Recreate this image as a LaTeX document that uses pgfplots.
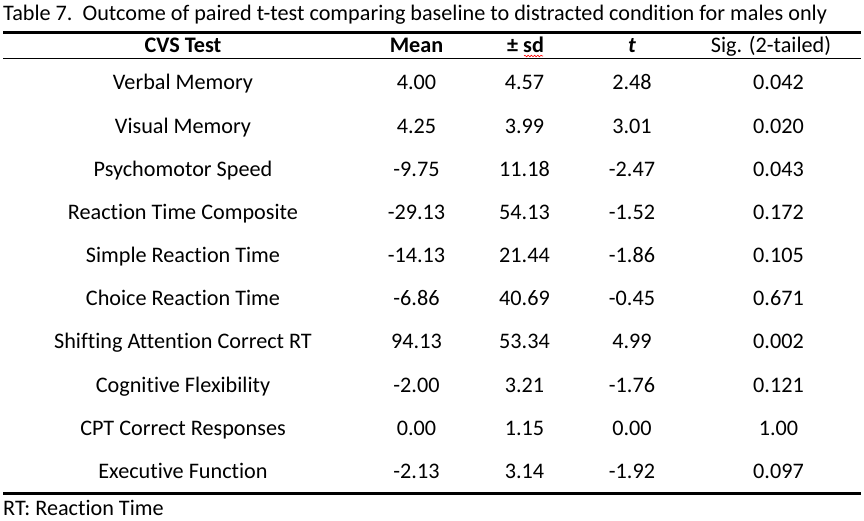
\documentclass[border=0pt]{standalone}
\usepackage{pgfplots}
\pgfplotsset{compat=1.18}
\usepackage{fontspec}
\setmainfont{Carlito}[Ligatures=NoCommon]
\usetikzlibrary{decorations.pathmorphing}
\newcommand{\fs}{\fontsize{22.2bp}{26bp}\selectfont}
\begin{document}
\fs
\begin{tikzpicture}
\begin{axis}[
  width=864bp, height=521bp, scale only axis,
  xmin=0, xmax=864, ymin=0, ymax=521, y dir=reverse,
  hide axis, clip=false,
  every node near coord/.append style={anchor=base, inner sep=0pt, font=\fs, text=black},
]
% rules
\addplot[black, line width=3bp] coordinates {(3,32.5) (861,32.5)};
\addplot[black, line width=1.8bp] coordinates {(3,58.5) (861,58.5)};
\addplot[black, line width=3bp] coordinates {(3,493) (861,493)};
% title and footnote
\addplot[only marks, mark=none, point meta=explicit symbolic, nodes near coords,
  every node near coord/.append style={anchor=base west}]
  coordinates {(3,21) [Table 7.\ \ Outcome of paired t-test comparing baseline to distracted condition for males only]
               (3,515) [RT: Reaction Time]};
% header
\addplot[only marks, mark=none, point meta=explicit symbolic, nodes near coords,
  every node near coord/.append style={font=\fs\bfseries}]
  coordinates {(183,53) [CVS Test] (416.5,53) [Mean] (525.5,53) [± sd] (632,53) [\textit{t}]};
\addplot[only marks, mark=none, point meta=explicit symbolic, nodes near coords]
  coordinates {(771,53) [Sig. (2-tailed)]};
\addplot[red, line width=0.6bp, decorate, decoration={snake, amplitude=0.8bp, segment length=3.2bp}]
  coordinates {(524,56) (543,56)};
% CVS Test column
\addplot[only marks, mark=none, point meta=explicit symbolic, nodes near coords]
  coordinates {
  (183,90) [Verbal Memory]
  (183,133) [Visual Memory]
  (183,176) [Psychomotor Speed]
  (183,219) [Reaction Time Composite]
  (183,262) [Simple Reaction Time]
  (183,305) [Choice Reaction Time]
  (183,348) [Shifting Attention Correct RT]
  (183,392) [Cognitive Flexibility]
  (183,435) [CPT Correct Responses]
  (183,478) [Executive Function]};
% Mean column
\addplot[only marks, mark=none, point meta=explicit symbolic, nodes near coords]
  coordinates {
  (416.5,90) [4.00]
  (416.5,133) [4.25]
  (416.5,176) [-9.75]
  (416.5,219) [-29.13]
  (416.5,262) [-14.13]
  (416.5,305) [-6.86]
  (416.5,348) [94.13]
  (416.5,392) [-2.00]
  (416.5,435) [0.00]
  (416.5,478) [-2.13]};
% sd column
\addplot[only marks, mark=none, point meta=explicit symbolic, nodes near coords]
  coordinates {
  (524.5,90) [4.57]
  (524.5,133) [3.99]
  (524.5,176) [11.18]
  (524.5,219) [54.13]
  (524.5,262) [21.44]
  (524.5,305) [40.69]
  (524.5,348) [53.34]
  (524.5,392) [3.21]
  (524.5,435) [1.15]
  (524.5,478) [3.14]};
% t column
\addplot[only marks, mark=none, point meta=explicit symbolic, nodes near coords]
  coordinates {
  (632,90) [2.48]
  (632,133) [3.01]
  (632,176) [-2.47]
  (632,219) [-1.52]
  (632,262) [-1.86]
  (632,305) [-0.45]
  (632,348) [4.99]
  (632,392) [-1.76]
  (632,435) [0.00]
  (632,478) [-1.92]};
% Sig column
\addplot[only marks, mark=none, point meta=explicit symbolic, nodes near coords]
  coordinates {
  (778.5,90) [0.042]
  (778.5,133) [0.020]
  (778.5,176) [0.043]
  (778.5,219) [0.172]
  (778.5,262) [0.105]
  (778.5,305) [0.671]
  (778.5,348) [0.002]
  (778.5,392) [0.121]
  (778.5,435) [1.00]
  (778.5,478) [0.097]};
\end{axis}
\pgfresetboundingbox
\path (current axis.south west) rectangle (current axis.north east);
\end{tikzpicture}
\end{document}
